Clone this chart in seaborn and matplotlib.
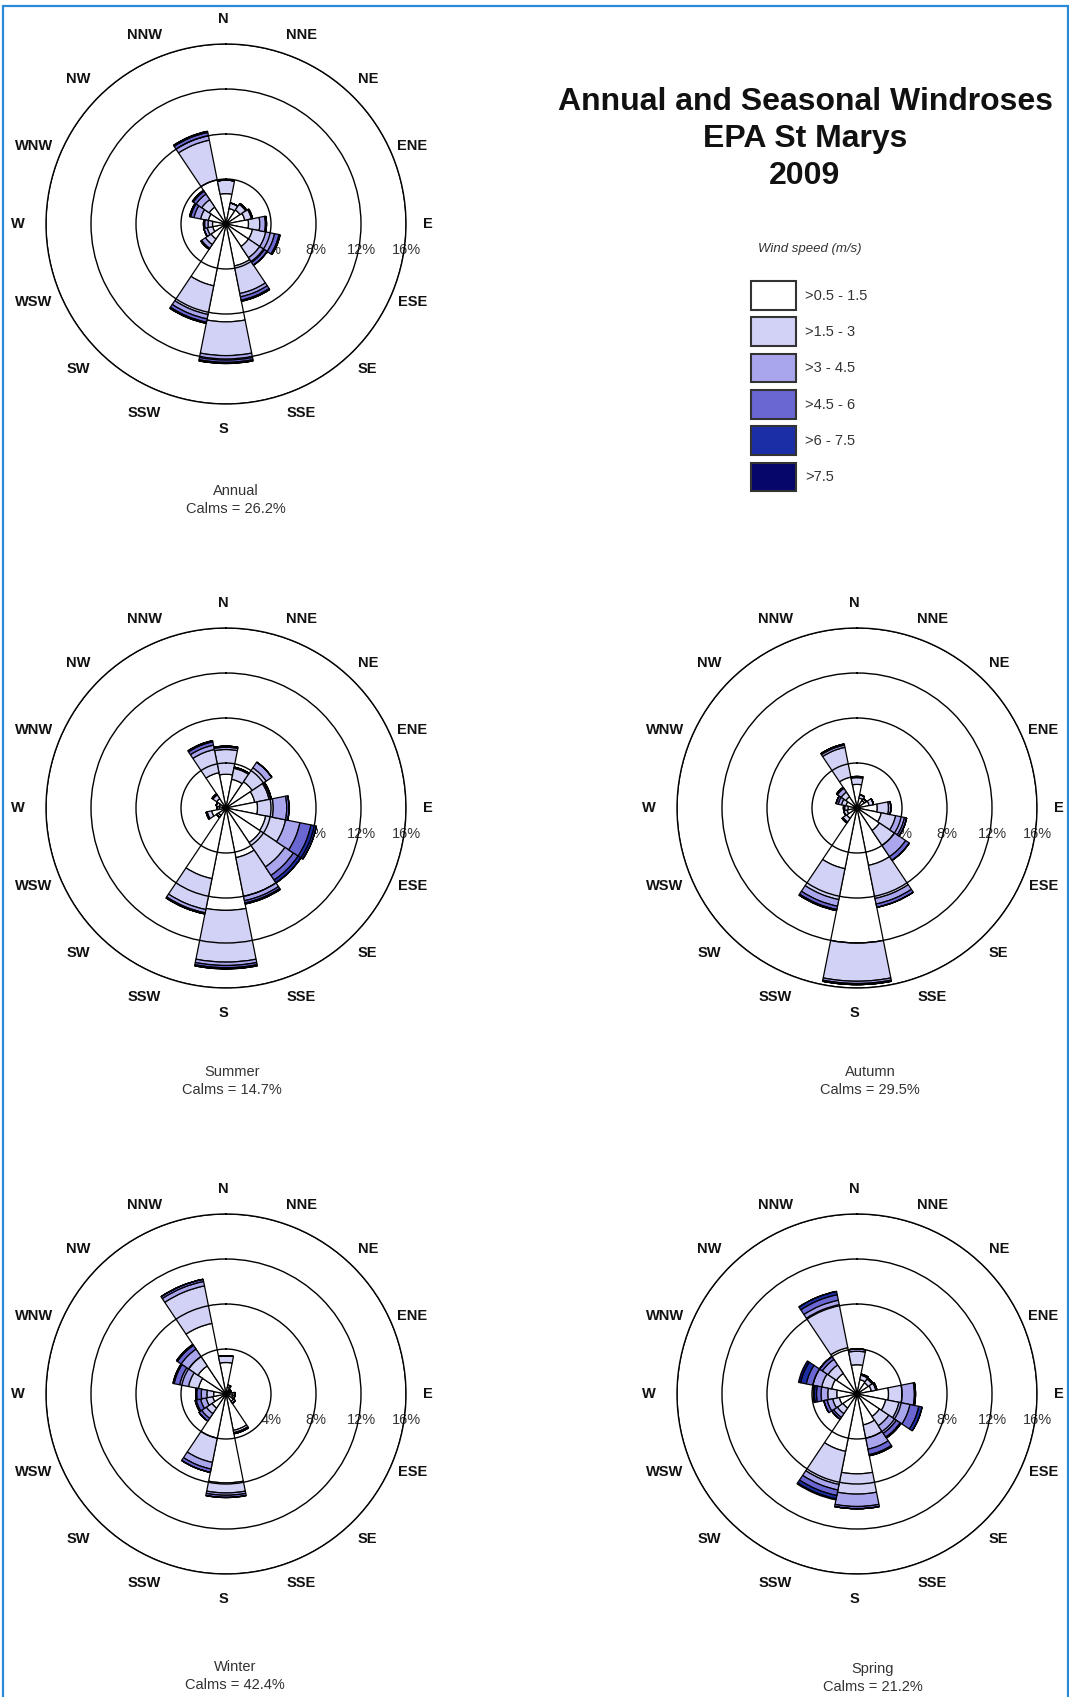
import numpy as np
import matplotlib
matplotlib.use('Agg')
import matplotlib.pyplot as plt
from matplotlib.patches import Patch, Rectangle
import seaborn as sns

directions = ['N', 'NNE', 'NE', 'ENE', 'E', 'ESE', 'SE', 'SSE',
              'S', 'SSW', 'SW', 'WSW', 'W', 'WNW', 'NW', 'NNW']
speed_classes = ['>0.5 - 1.5', '>1.5 - 3', '>3 - 4.5', '>4.5 - 6', '>6 - 7.5', '>7.5']
speed_colors = ['#ffffff', '#d2d2f6', '#aaa6ee', '#6a66d2', '#1c2ea6', '#06066a']

# frequency (%) per direction, one column per speed class
annual = [
    [2.7, 1.2, 0.0, 0.0, 0.0, 0.0],
    [1.4, 0.5, 0.0, 0.0, 0.0, 0.0],
    [1.5, 0.6, 0.1, 0.0, 0.0, 0.0],
    [1.7, 0.6, 0.1, 0.0, 0.0, 0.0],
    [2.0, 1.0, 0.5, 0.1, 0.0, 0.0],
    [2.4, 1.2, 0.8, 0.4, 0.1, 0.0],
    [2.4, 1.2, 0.5, 0.3, 0.0, 0.0],
    [3.8, 2.5, 0.3, 0.3, 0.1, 0.0],
    [8.7, 3.0, 0.4, 0.2, 0.1, 0.0],
    [5.6, 2.6, 0.4, 0.3, 0.1, 0.0],
    [1.6, 0.6, 0.4, 0.1, 0.0, 0.0],
    [1.2, 0.5, 0.3, 0.0, 0.0, 0.0],
    [1.2, 0.4, 0.3, 0.1, 0.0, 0.0],
    [1.6, 0.7, 0.6, 0.3, 0.1, 0.0],
    [1.8, 0.8, 0.6, 0.3, 0.1, 0.0],
    [4.0, 3.6, 0.4, 0.3, 0.1, 0.0],
]
summer = [
    [3.0, 2.2, 0.2, 0.1, 0.0, 0.0],
    [2.6, 1.0, 0.1, 0.0, 0.0, 0.0],
    [2.8, 1.5, 0.6, 0.0, 0.0, 0.0],
    [2.6, 1.3, 0.2, 0.0, 0.0, 0.0],
    [2.8, 1.4, 1.2, 0.2, 0.0, 0.0],
    [3.6, 1.8, 1.3, 1.0, 0.5, 0.0],
    [3.7, 2.6, 0.9, 0.5, 0.3, 0.0],
    [4.5, 3.5, 0.4, 0.2, 0.1, 0.0],
    [9.1, 4.6, 0.3, 0.2, 0.1, 0.0],
    [6.4, 2.8, 0.3, 0.1, 0.0, 0.0],
    [0.8, 0.2, 0.0, 0.0, 0.0, 0.0],
    [1.3, 0.4, 0.1, 0.0, 0.0, 0.0],
    [0.6, 0.2, 0.0, 0.0, 0.0, 0.0],
    [0.6, 0.3, 0.0, 0.0, 0.0, 0.0],
    [1.0, 0.4, 0.1, 0.0, 0.0, 0.0],
    [3.2, 2.1, 0.4, 0.3, 0.1, 0.0],
]
autumn = [
    [2.1, 0.6, 0.1, 0.0, 0.0, 0.0],
    [0.9, 0.3, 0.0, 0.0, 0.0, 0.0],
    [0.8, 0.2, 0.0, 0.0, 0.0, 0.0],
    [1.1, 0.4, 0.0, 0.0, 0.0, 0.0],
    [1.8, 1.0, 0.2, 0.0, 0.0, 0.0],
    [2.2, 1.3, 0.8, 0.2, 0.0, 0.0],
    [2.4, 1.6, 1.2, 0.4, 0.0, 0.0],
    [5.2, 3.0, 0.5, 0.3, 0.0, 0.0],
    [12.0, 3.4, 0.2, 0.1, 0.0, 0.0],
    [5.5, 2.8, 0.6, 0.3, 0.1, 0.0],
    [1.1, 0.4, 0.1, 0.0, 0.0, 0.0],
    [0.9, 0.3, 0.0, 0.0, 0.0, 0.0],
    [0.8, 0.3, 0.1, 0.0, 0.0, 0.0],
    [1.0, 0.4, 0.3, 0.2, 0.0, 0.0],
    [1.2, 0.5, 0.4, 0.1, 0.0, 0.0],
    [2.8, 2.7, 0.2, 0.1, 0.0, 0.0],
]
winter = [
    [2.8, 0.6, 0.0, 0.0, 0.0, 0.0],
    [0.6, 0.2, 0.0, 0.0, 0.0, 0.0],
    [0.4, 0.1, 0.0, 0.0, 0.0, 0.0],
    [0.4, 0.1, 0.0, 0.0, 0.0, 0.0],
    [0.6, 0.2, 0.0, 0.0, 0.0, 0.0],
    [0.6, 0.2, 0.0, 0.0, 0.0, 0.0],
    [0.8, 0.2, 0.0, 0.0, 0.0, 0.0],
    [3.3, 0.2, 0.1, 0.0, 0.0, 0.0],
    [7.9, 0.9, 0.2, 0.2, 0.0, 0.0],
    [4.0, 2.2, 0.6, 0.3, 0.0, 0.0],
    [1.5, 0.6, 0.5, 0.3, 0.0, 0.0],
    [1.2, 0.6, 0.5, 0.4, 0.1, 0.0],
    [1.1, 0.6, 0.5, 0.4, 0.1, 0.0],
    [2.5, 0.9, 0.8, 0.5, 0.1, 0.0],
    [3.0, 1.0, 0.8, 0.4, 0.1, 0.0],
    [6.4, 3.4, 0.4, 0.2, 0.0, 0.0],
]
spring = [
    [2.6, 1.2, 0.2, 0.0, 0.0, 0.0],
    [1.3, 0.4, 0.1, 0.0, 0.0, 0.0],
    [1.2, 0.4, 0.1, 0.0, 0.0, 0.0],
    [1.3, 0.4, 0.1, 0.0, 0.0, 0.0],
    [2.8, 1.2, 1.1, 0.1, 0.0, 0.0],
    [2.6, 1.2, 1.0, 0.8, 0.3, 0.0],
    [2.4, 1.0, 0.8, 0.4, 0.1, 0.0],
    [2.8, 1.2, 1.0, 0.5, 0.1, 0.0],
    [7.1, 1.8, 1.1, 0.2, 0.0, 0.0],
    [5.2, 3.0, 0.5, 0.5, 0.3, 0.1],
    [1.5, 0.6, 0.4, 0.2, 0.0, 0.0],
    [1.6, 0.6, 0.5, 0.3, 0.0, 0.0],
    [1.8, 0.8, 0.6, 0.4, 0.2, 0.1],
    [2.3, 0.9, 0.8, 0.6, 0.5, 0.2],
    [2.2, 0.9, 0.6, 0.3, 0.0, 0.0],
    [4.2, 3.9, 0.4, 0.5, 0.3, 0.0],
]
season_names = ['Annual', 'Summer', 'Autumn', 'Winter', 'Spring']
calms = [26.2, 14.7, 29.5, 42.4, 21.2]
rings = [4, 8, 12, 16]

W, H = 1069, 1697
# rose centre and caption centre, in pixels from the top-left
centres = [(226, 224), (226, 808), (857, 808), (226, 1394), (857, 1394)]
captions = [(236, 500), (232, 1081), (870, 1081), (235, 1676), (873, 1678)]
R_PX = 180  # pixel radius of the 16 % ring

sns.set_theme(style='white')
plt.rcParams['font.family'] = ['Liberation Sans', 'DejaVu Sans']

fig = plt.figure(figsize=(W / 100, H / 100), dpi=100)
fig.patch.set_facecolor('white')

theta = np.deg2rad(np.arange(len(directions)) * 22.5)
width = 2 * np.pi / len(directions)

for data, name, calm, (cx, cy), (tx, ty) in zip(
        [annual, summer, autumn, winter, spring], season_names, calms, centres, captions):
    ax = fig.add_axes([(cx - R_PX) / W, (H - cy - R_PX) / H, 2 * R_PX / W, 2 * R_PX / H],
                      projection='polar')
    ax.set_theta_zero_location('N')
    ax.set_theta_direction(-1)
    ax.set_facecolor('none')
    vals = np.array(data)
    bottom = np.zeros(len(directions))
    for k, col in enumerate(speed_colors):
        ax.bar(theta, vals[:, k], width=width, bottom=bottom, color=col,
               edgecolor='black', linewidth=0.9, zorder=2)
        bottom += vals[:, k]
    ax.set_ylim(0, 16)
    ax.set_yticks(rings)
    ax.set_yticklabels([])
    ax.set_xticks([])
    # rings are drawn over the wedges
    ax.set_axisbelow(False)
    ax.yaxis.grid(True, color='black', linewidth=1.0)
    ax.xaxis.grid(False)
    ax.spines['polar'].set_color('black')
    ax.spines['polar'].set_linewidth(1.0)
    for t, lab in zip(theta, directions):
        ax.annotate(lab, xy=(t, 18.2), xytext=(-3, 0), textcoords='offset pixels',
                    ha='center', va='center', fontsize=10.5, fontweight='bold',
                    color='#111111', annotation_clip=False)
    for r in rings:
        ax.annotate(f'{r}%', xy=(np.pi / 2, r), xytext=(0, -26), textcoords='offset pixels',
                    ha='center', va='center', fontsize=10.5, color='#333333', zorder=1)
    fig.text(tx / W, 1 - ty / H, f'{name}\nCalms = {calm}%', ha='center', va='center',
             fontsize=10.5, color='#333333', linespacing=1.3)

fig.text(805 / W, 1 - 139 / H, 'Annual and Seasonal Windroses\nEPA St Marys\n2009',
         ha='center', va='center', fontsize=23, fontweight='bold', color='#111111',
         linespacing=1.3)
fig.text(810 / W, 1 - 249 / H, 'Wind speed (m/s)', ha='center', va='center',
         fontsize=9.5, style='italic', color='#333333')

handles = [Patch(facecolor=c, edgecolor='#333333', linewidth=1.5) for c in speed_colors]
fig.legend(handles, speed_classes, loc='upper left', bbox_to_anchor=(751 / W, 1 - 281 / H),
           frameon=False, fontsize=10.5, handlelength=3.1, handleheight=2.64,
           labelspacing=0.53, handletextpad=0.6, borderpad=0, borderaxespad=0,
           labelcolor='#333333')

fig.add_artist(Rectangle((3 / W, -0.01), (1067.5 - 3) / W, 1.01 - 6 / H,
                         transform=fig.transFigure, fill=False,
                         edgecolor='#2a8ad8', linewidth=1.6))

fig.savefig('out.png', dpi=100, facecolor='white')
